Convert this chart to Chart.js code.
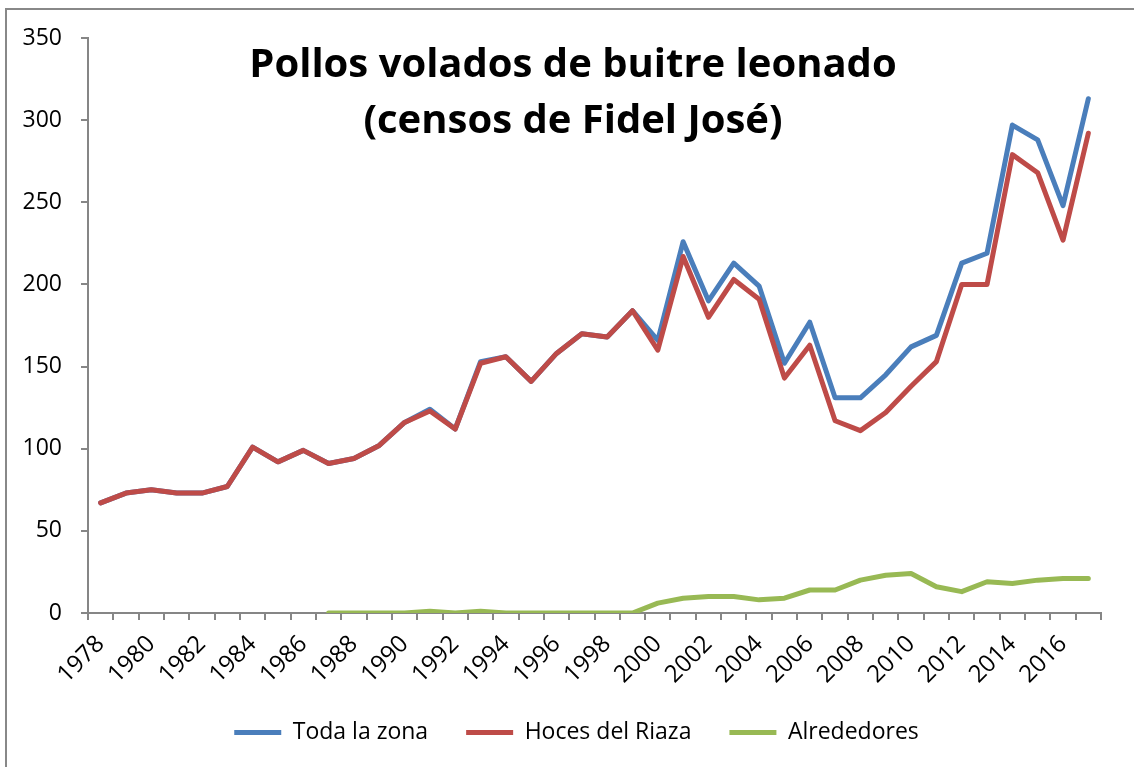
<!DOCTYPE html>
<html>
<head>
<meta charset="utf-8">
<script src="https://cdn.jsdelivr.net/npm/chart.js@4/dist/chart.umd.min.js"></script>
<style>
  html, body { margin: 0; padding: 0; background: #fff; overflow: hidden; }
  #wrap { position: absolute; left: 0; top: 0; width: 1134px; height: 767px; }
</style>
</head>
<body>
<div id="wrap"><canvas id="lineChart" width="1134" height="767"></canvas></div>
<script>
// años del censo
const years = ['1978', '1979', '1980', '1981', '1982', '1983', '1984', '1985', '1986', '1987',
    '1988', '1989', '1990', '1991', '1992', '1993', '1994', '1995', '1996', '1997',
    '1998', '1999', '2000', '2001', '2002', '2003', '2004', '2005', '2006', '2007',
    '2008', '2009', '2010', '2011', '2012', '2013', '2014', '2015', '2016', '2017'];

// series
const todaLaZona = [67, 73, 75, 73, 73, 77, 101, 92, 99, 91,
    94, 102, 116, 124, 112, 153, 156, 141, 158, 170,
    168, 184, 166, 226, 190, 213, 199, 152, 177, 131,
    131, 145, 162, 169, 213, 219, 297, 288, 248, 313];
const hocesDelRiaza = [67, 73, 75, 73, 73, 77, 101, 92, 99, 91,
    94, 102, 116, 123, 112, 152, 156, 141, 158, 170,
    168, 184, 160, 217, 180, 203, 191, 143, 163, 117,
    111, 122, 138, 153, 200, 200, 279, 268, 227, 292];
const alrededores = [null, null, null, null, null, null, null, null, null, 0,
    0, 0, 0, 1, 0, 1, 0, 0, 0, 0,
    0, 0, 6, 9, 10, 10, 8, 9, 14, 14,
    20, 23, 24, 16, 13, 19, 18, 20, 21, 21];

const seriesNames = ['Toda la zona', 'Hoces del Riaza', 'Alrededores'];
const seriesColors = ['#4a7ebb', '#be4b48', '#98b954'];
const yTicks = [0, 50, 100, 150, 200, 250, 300, 350];
const titleLines = ['Pollos volados de buitre leonado', '(censos de Fidel José)'];

const axisColor = '#868686';

// marco, leyenda y título dentro del área del gráfico
const extrasPlugin = {
    id: 'extras',
    afterLayout(chart) {
        // centrar la leyenda como en el original
        chart.legend.left += 26;
        chart.legend.right += 26;
    },
    beforeDraw(chart) {
        const ctx = chart.ctx;
        ctx.save();
        ctx.strokeStyle = '#888';
        ctx.lineWidth = 2;
        ctx.beginPath();
        ctx.moveTo(6, chart.height);
        ctx.lineTo(6, 9);
        ctx.lineTo(chart.width, 9);
        ctx.stroke();
        ctx.restore();
    },
    afterDraw(chart) {
        const ctx = chart.ctx;
        ctx.save();
        ctx.font = 'bold 40px "Open Sans"';
        ctx.fillStyle = '#000';
        ctx.textAlign = 'center';
        ctx.textBaseline = 'alphabetic';
        ctx.fillText(titleLines[0], 573, 77);
        ctx.fillText(titleLines[1], 573, 133);
        ctx.restore();
    }
};

function makeDataset(i, values, order) {
    return {
        label: seriesNames[i],
        data: values,
        borderColor: seriesColors[i],
        backgroundColor: seriesColors[i],
        borderWidth: 5,
        borderJoinStyle: 'round',
        borderCapStyle: 'round',
        pointRadius: 0,
        tension: 0,
        order: order
    };
}

function renderChart() {
    const ctx = document.getElementById('lineChart').getContext('2d');
    new Chart(ctx, {
        type: 'line',
        data: {
            labels: years,
            datasets: [
                makeDataset(0, todaLaZona, 3),
                makeDataset(1, hocesDelRiaza, 2),
                makeDataset(2, alrededores, 1)
            ]
        },
        options: {
            responsive: false,
            animation: false,
            devicePixelRatio: 1,
            layout: { padding: { left: 0, right: 33, top: 38, bottom: 13 } },
            scales: {
                x: {
                    offset: true,
                    grid: { display: true, offset: true, drawOnChartArea: false, color: axisColor, lineWidth: 2, tickLength: 7 },
                    border: { color: axisColor, width: 2 },
                    ticks: {
                        autoSkip: false,
                        maxRotation: 45,
                        minRotation: 45,
                        padding: 10,
                        color: '#000',
                        font: { family: 'Open Sans', size: 24 },
                        callback: function (value, index) {
                            return index % 2 === 0 ? years[index] : '';
                        }
                    },
                    afterFit: function (scale) { scale.height = 70; }
                },
                y: {
                    min: 0,
                    max: 350,
                    grid: { display: true, drawOnChartArea: false, color: axisColor, lineWidth: 2, tickLength: 7 },
                    border: { color: axisColor, width: 2 },
                    afterBuildTicks: function (scale) {
                        scale.ticks = yTicks.map(v => ({ value: v }));
                    },
                    ticks: {
                        padding: 19,
                        color: '#000',
                        font: { family: 'Open Sans', size: 23 }
                    },
                    afterFit: function (scale) { scale.width = 88; }
                }
            },
            plugins: {
                legend: {
                    position: 'bottom',
                    labels: {
                        usePointStyle: true,
                        pointStyle: 'line',
                        pointStyleWidth: 47,
                        padding: 38,
                        color: '#000',
                        font: { family: 'Open Sans', size: 23 },
                        sort: (a, b) => a.datasetIndex - b.datasetIndex
                    }
                },
                tooltip: { enabled: false }
            }
        },
        plugins: [extrasPlugin]
    });
}

renderChart();
</script>
</body>
</html>
